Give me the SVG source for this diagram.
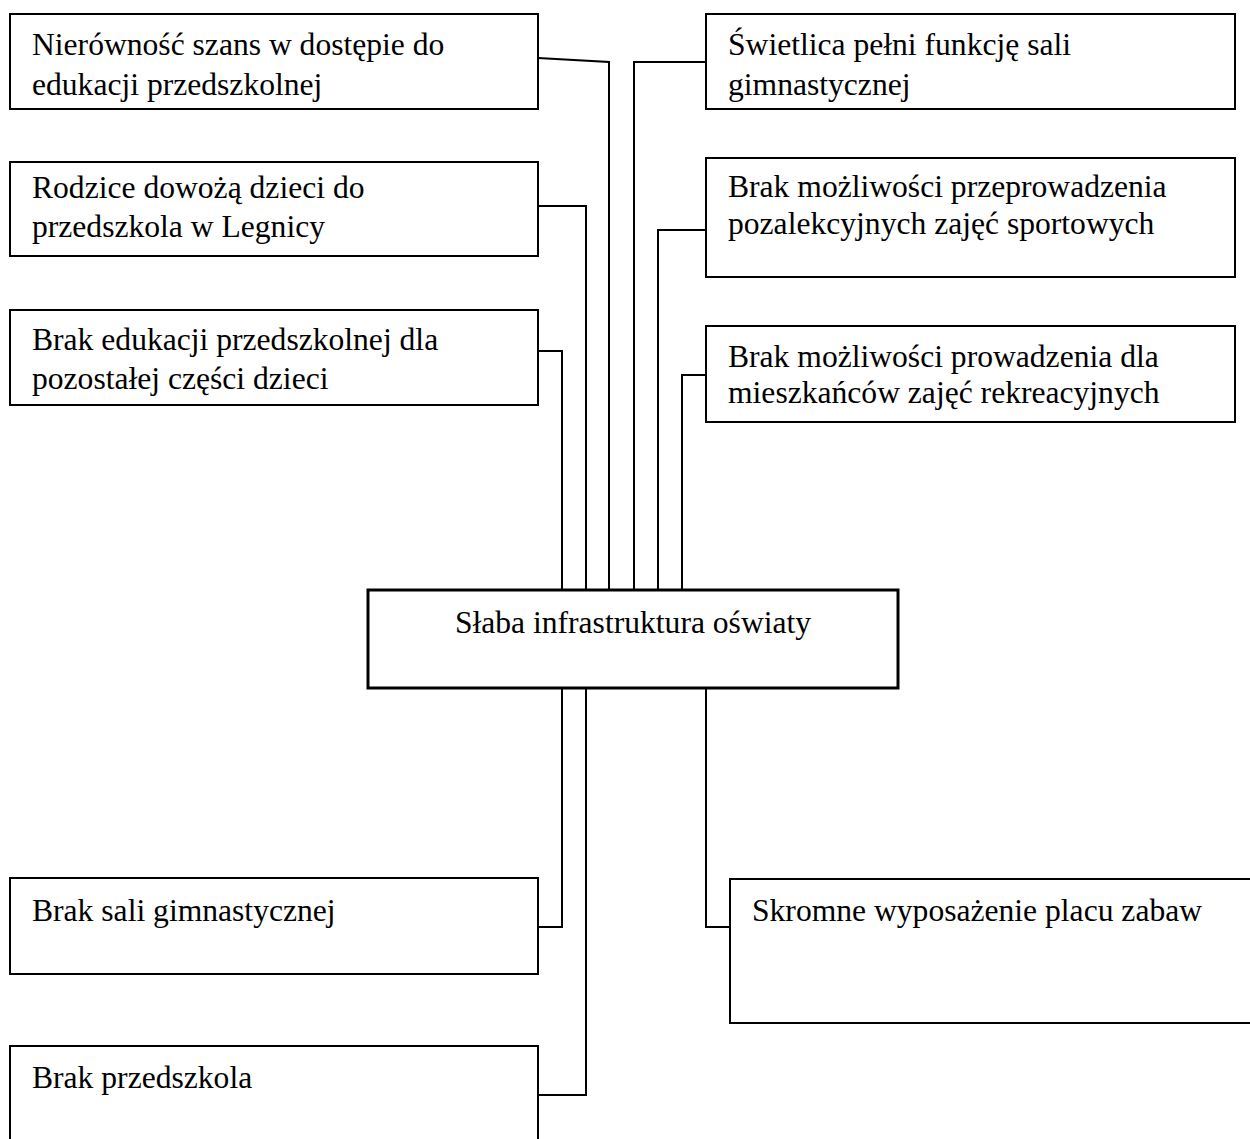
<svg xmlns="http://www.w3.org/2000/svg" width="1250" height="1139" viewBox="0 0 1250 1139">
<style>
.box{fill:#fff;stroke:#000;stroke-width:2}
.main{fill:#fff;stroke:#000;stroke-width:3}
.t{font-family:"Liberation Serif","Times New Roman",serif;font-size:31.6px;fill:#000}
.c{fill:none;stroke:#000;stroke-width:2}
</style>
<rect width="1250" height="1139" fill="#fff"/>
<g id="connectors">
<polyline class="c" points="538,58 609,62 609,590"/>
<polyline class="c" points="706,62 634,62 634,590"/>
<polyline class="c" points="538,206 586,206 586,590"/>
<polyline class="c" points="538,351 562,351 562,590"/>
<polyline class="c" points="706,230 658,230 658,590"/>
<polyline class="c" points="706,375 682,375 682,590"/>
<polyline class="c" points="562,688 562,927 538,927"/>
<polyline class="c" points="586,688 586,1095 538,1095"/>
<polyline class="c" points="706,688 706,927 730,927"/>
</g>
<g id="n1"><rect class="box" x="10" y="14" width="528" height="95"/><text class="t" x="32" y="55">Nierówność szans w dostępie do</text><text class="t" x="32" y="95">edukacji przedszkolnej</text></g>
<g id="n2"><rect class="box" x="10" y="162" width="528" height="94"/><text class="t" x="32" y="198">Rodzice dowożą dzieci do</text><text class="t" x="32" y="237">przedszkola w Legnicy</text></g>
<g id="n3"><rect class="box" x="10" y="310" width="528" height="95"/><text class="t" x="32" y="350">Brak edukacji przedszkolnej dla</text><text class="t" x="32" y="389">pozostałej części dzieci</text></g>
<g id="n4"><rect class="box" x="706" y="14" width="529" height="95"/><text class="t" x="728" y="55">Świetlica pełni funkcję sali</text><text class="t" x="728" y="95">gimnastycznej</text></g>
<g id="n5"><rect class="box" x="706" y="158" width="529" height="119"/><text class="t" x="728" y="197">Brak możliwości przeprowadzenia</text><text class="t" x="728" y="234">pozalekcyjnych zajęć sportowych</text></g>
<g id="n6"><rect class="box" x="706" y="326" width="529" height="96"/><text class="t" x="728" y="367">Brak możliwości prowadzenia dla</text><text class="t" x="728" y="403">mieszkańców zajęć rekreacyjnych</text></g>
<g id="center"><rect class="main" x="368" y="590" width="530" height="98"/><text class="t" x="633" y="633" text-anchor="middle">Słaba infrastruktura oświaty</text></g>
<g id="n7"><rect class="box" x="10" y="878" width="528" height="96"/><text class="t" x="32" y="921">Brak sali gimnastycznej</text></g>
<g id="n8"><rect class="box" x="10" y="1046" width="528" height="110"/><text class="t" x="32" y="1088">Brak przedszkola</text></g>
<g id="n9"><rect class="box" x="730" y="879" width="540" height="144"/><text class="t" x="752" y="921">Skromne wyposażenie placu zabaw</text></g>
</svg>
